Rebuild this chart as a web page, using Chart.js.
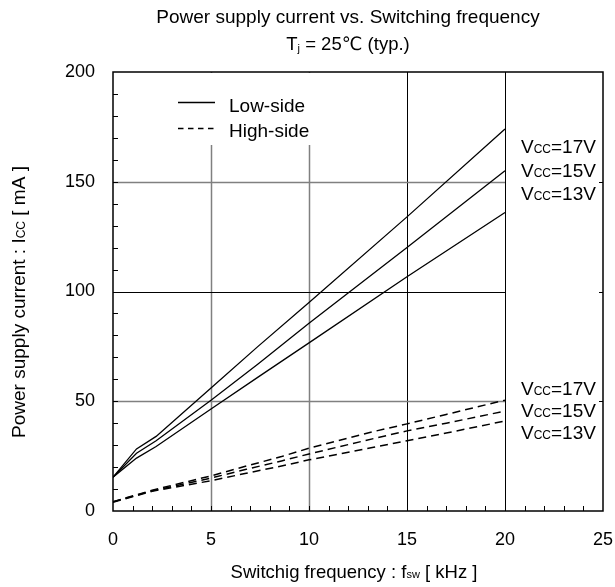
<!DOCTYPE html>
<html>
<head>
<meta charset="utf-8">
<script src="https://cdn.jsdelivr.net/npm/chart.js@4/dist/chart.umd.min.js"></script>
<style>
  body { margin: 0; background: #fff; }
  canvas { display: block; }
</style>
</head>
<body>
<canvas id="chart" width="615" height="587"></canvas>
<script>
const FONT = '"Liberation Sans", Arial, "DejaVu Sans", sans-serif';

// Low-side (solid)
const freqLow = [0, 1.2, 2.2, 5, 7.4, 10, 15, 20];
const low17 = [15.4, 28.3, 34, 56, 75, 95, 134, 174];
const low15 = [15.4, 26.3, 32, 50.5, 67, 85.5, 120, 155];
const low13 = [15.4, 24.1, 29.4, 46.5, 61, 76.6, 106.7, 136];

// High-side (dashed)
const freqHigh = [0, 2, 5, 6.8, 8.6, 10, 13.3, 15, 17, 20];
const high17 = [4.2, 9.5, 16, 20.5, 24.8, 28.6, 36.2, 39.7, 44, 50.5];
const high15 = [4.2, 9.2, 15, 19, 22.8, 26, 33, 36.5, 40, 45.5];
const high13 = [4.0, 9, 13.8, 17.2, 20.5, 23.3, 29, 32, 35.5, 41];

const xGrid = [5, 10, 15, 20];
const yGrid = [50, 100, 150];
const vccNames = ['17V', '15V', '13V'];

function toPoints(xs, ys) {
  return xs.map((x, i) => ({ x: x, y: ys[i] }));
}

function lineSet(label, xs, ys, dashed) {
  return {
    label: label,
    data: toPoints(xs, ys),
    showLine: true,
    borderColor: '#000',
    borderWidth: dashed ? 1.5 : 1.3,
    borderDash: dashed ? [8, 5] : [],
    pointRadius: 0,
    tension: 0,
    fill: false,
  };
}

// draws text made of pieces [text, size, dy]
function richText(ctx, parts, x, y, align) {
  let w = 0;
  parts.forEach(p => {
    ctx.font = p[1] + 'px ' + FONT;
    w += ctx.measureText(p[0]).width;
  });
  let cx = align === 'center' ? x - w / 2 : x;
  ctx.textBaseline = 'alphabetic';
  ctx.textAlign = 'left';
  parts.forEach(p => {
    ctx.font = p[1] + 'px ' + FONT;
    ctx.fillText(p[0], cx, y + (p[2] || 0));
    cx += ctx.measureText(p[0]).width;
  });
}

const decorations = {
  id: 'decorations',
  beforeDatasetsDraw(chart) {
    const { ctx, chartArea: a, scales: { x, y } } = chart;
    ctx.save();
    // vertical grid
    xGrid.forEach(v => {
      const px = x.getPixelForValue(v);
      ctx.beginPath();
      ctx.strokeStyle = v < 15 ? '#808080' : '#000';
      ctx.lineWidth = v < 15 ? 1.5 : 1;
      ctx.moveTo(Math.round(px) + 0.5, a.top);
      ctx.lineTo(Math.round(px) + 0.5, a.bottom);
      ctx.stroke();
    });
    // horizontal grid, only up to 20 kHz
    yGrid.forEach(v => {
      const py = y.getPixelForValue(v);
      ctx.beginPath();
      ctx.strokeStyle = v === 100 ? '#000' : '#808080';
      ctx.lineWidth = v === 100 ? 1 : 1.5;
      ctx.moveTo(a.left, Math.round(py) + 0.5);
      ctx.lineTo(x.getPixelForValue(20), Math.round(py) + 0.5);
      ctx.stroke();
    });
    // minor inward ticks
    ctx.strokeStyle = '#000';
    ctx.lineWidth = 1;
    for (let v = 1; v < 25; v++) {
      const px = Math.round(x.getPixelForValue(v)) + 0.5;
      ctx.beginPath();
      ctx.moveTo(px, a.bottom);
      ctx.lineTo(px, a.bottom - 5);
      ctx.stroke();
    }
    for (let v = 10; v < 200; v += 10) {
      const py = Math.round(y.getPixelForValue(v)) + 0.5;
      ctx.beginPath();
      ctx.moveTo(a.left, py);
      ctx.lineTo(a.left + 5, py);
      ctx.stroke();
      if (v % 50 === 0) {
        ctx.beginPath();
        ctx.moveTo(a.right, py);
        ctx.lineTo(a.right - 4, py);
        ctx.stroke();
      }
    }
    ctx.restore();
  },
  afterDatasetsDraw(chart) {
    const { ctx, chartArea: a, scales: { x, y } } = chart;
    ctx.save();
    // legend
    ctx.fillStyle = '#fff';
    ctx.fillRect(a.left + 50, a.top + 1, 160, 72);
    ctx.strokeStyle = '#000';
    ctx.lineWidth = 1.3;
    ctx.beginPath();
    ctx.moveTo(a.left + 65, a.top + 30.5);
    ctx.lineTo(a.left + 102, a.top + 30.5);
    ctx.stroke();
    ctx.setLineDash([5.5, 4.5]);
    ctx.lineWidth = 1.5;
    ctx.beginPath();
    ctx.moveTo(a.left + 65, a.top + 56.5);
    ctx.lineTo(a.left + 102, a.top + 56.5);
    ctx.stroke();
    ctx.setLineDash([]);
    ctx.fillStyle = '#000';
    richText(ctx, [['Low-side', 19]], a.left + 116, a.top + 40, 'left');
    richText(ctx, [['High-side', 19]], a.left + 116, a.top + 65, 'left');

    // Vcc labels
    const lx = x.getPixelForValue(20) + 16;
    const topVals = [166.3, 155.3, 145.0];
    const botVals = [56.2, 46.2, 36.2];
    [topVals, botVals].forEach(vals => {
      vals.forEach((v, i) => {
        richText(ctx, [['V', 19], ['CC', 12], ['=' + vccNames[i], 19]], lx, y.getPixelForValue(v) + 7, 'left');
      });
    });

    // frame
    ctx.strokeStyle = '#000';
    ctx.lineWidth = 1.5;
    ctx.strokeRect(a.left, a.top, a.right - a.left, a.bottom - a.top);
    ctx.restore();
  },
  afterDraw(chart) {
    const { ctx, chartArea: a } = chart;
    const cx = (a.left + a.right) / 2 - 10;
    ctx.save();
    ctx.fillStyle = '#000';
    richText(ctx, [['Power supply current vs. Switching frequency', 19]], cx, 23, 'center');
    richText(ctx, [['T', 18.5], ['j', 11, 2], [' = 25\u2103 (typ.)', 18.5]], cx, 50, 'center');
    richText(ctx, [['Switchig frequency : f', 18.5], ['sw', 11], [' [ kHz ]', 18.5]], cx + 6, 578, 'center');
    ctx.translate(25, 302);
    ctx.rotate(-Math.PI / 2);
    richText(ctx, [['Power supply current : I', 19], ['CC', 12], [' [ mA ]', 19]], 0, 0, 'center');
    ctx.restore();
  },
};

new Chart(document.getElementById('chart'), {
  type: 'scatter',
  data: {
    datasets: [
      lineSet('Low 17V', freqLow, low17, false),
      lineSet('Low 15V', freqLow, low15, false),
      lineSet('Low 13V', freqLow, low13, false),
      lineSet('High 17V', freqHigh, high17, true),
      lineSet('High 15V', freqHigh, high15, true),
      lineSet('High 13V', freqHigh, high13, true),
    ],
  },
  options: {
    responsive: false,
    animation: false,
    layout: { padding: { top: 72, right: 12, left: 0, bottom: 0 } },
    plugins: { legend: { display: false }, tooltip: { enabled: false } },
    scales: {
      x: {
        type: 'linear',
        min: 0,
        max: 25,
        grid: { display: false, drawTicks: false },
        border: { display: false },
        ticks: { stepSize: 5, color: '#000', padding: 18, font: { size: 18, family: FONT } },
        afterFit: scale => {
          scale.height = 76;
          scale.paddingLeft = 0;
          scale.paddingRight = 0;
        },
      },
      y: {
        min: 0,
        max: 200,
        grid: { display: false, drawTicks: false },
        border: { display: false },
        ticks: { stepSize: 50, color: '#000', padding: 18, font: { size: 18, family: FONT } },
        afterFit: scale => {
          scale.width = 113;
          scale.paddingTop = 0;
          scale.paddingBottom = 0;
        },
      },
    },
  },
  plugins: [decorations],
});
</script>
</body>
</html>
